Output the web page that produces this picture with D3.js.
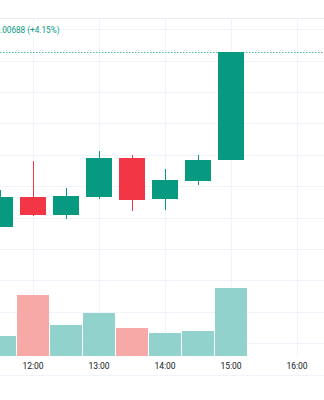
<!DOCTYPE html>
<html><head><meta charset="utf-8">
<script src="https://cdn.jsdelivr.net/npm/d3@7"></script>
<style>html,body{margin:0;padding:0;background:#fff;overflow:hidden}svg{display:block}</style>
</head><body>
<script>
const times  = ["11:30","12:00","12:30","13:00","13:30","14:00","14:30","15:00"];
const open   = [0.16140,0.16331,0.16216,0.16335,0.16579,0.16316,0.16432,0.16566];
const high   = [0.16375,0.16564,0.16386,0.16622,0.16598,0.16513,0.16598,0.17254];
const low    = [0.16138,0.16210,0.16189,0.16316,0.16241,0.16248,0.16411,0.16566];
const close  = [0.16331,0.16216,0.16337,0.16579,0.16314,0.16439,0.16566,0.17254];
const volume = [295000,909000,457000,648000,423000,343000,373000,1012000];
const priceTicks = [0.154,0.156,0.158,0.160,0.162,0.164,0.166,0.168,0.170,0.172,0.174];
const timeTicks  = ["12:00","13:00","14:00","15:00","16:00"];
const changeLabel = "+0.00688 (+4.15%)";

const W = 324, H = 400;
const paneTop = 18, paneBottom = 356, axisBottom = 375;
const UP = "#089981", DOWN = "#F23645", VUP = "#92d2cc", VDOWN = "#f7a9a7";
const toDate = s => { const [h,m] = s.split(":").map(Number); return new Date(Date.UTC(2024,0,2,h,m)); };

const svg = d3.select("body").append("svg").attr("width", W).attr("height", H);

const x = d3.scaleUtc().domain([toDate("11:30"), toDate("16:00")]).range([0, 297]);
const y = d3.scaleLinear().domain([0.154, 0.174]).range([343.3, 29.3]);
const yv = d3.scaleLinear().domain([0, d3.max(volume)]).range([paneBottom, paneBottom - 0.2*(paneBottom - paneTop)]);

const data = times.map((t,i) => ({t: toDate(t), o: open[i], h: high[i], l: low[i], c: close[i], v: volume[i]}));

// grid
const g = svg.append("g").attr("shape-rendering","crispEdges");
g.selectAll("line.h").data(priceTicks).join("line")
  .attr("x1",0).attr("x2",W).attr("y1",d=>Math.round(y(d))+0.5).attr("y2",d=>Math.round(y(d))+0.5)
  .attr("stroke","#f0f3fa");
g.selectAll("line.v").data(timeTicks).join("line")
  .attr("y1",paneTop).attr("y2",paneBottom).attr("x1",d=>Math.round(x(toDate(d)))+0.5).attr("x2",d=>Math.round(x(toDate(d)))+0.5)
  .attr("stroke","#f0f3fa");
g.append("line").attr("x1",0).attr("x2",W).attr("y1",paneTop+0.5).attr("y2",paneTop+0.5).attr("stroke","#e9ecf2");
g.append("line").attr("x1",0).attr("x2",W).attr("y1",axisBottom+0.5).attr("y2",axisBottom+0.5).attr("stroke","#f0f3fa");

// volume
svg.append("g").attr("shape-rendering","crispEdges").selectAll("rect").data(data).join("rect")
  .attr("x", d => Math.round(x(d.t)) - 16).attr("width", 32)
  .attr("y", d => yv(d.v)).attr("height", d => paneBottom - yv(d.v))
  .attr("fill", d => d.c >= d.o ? VUP : VDOWN);

// last price line
const last = data[data.length-1].c;
svg.append("line").attr("x1",0).attr("x2",W).attr("y1",Math.round(y(last))+0.5).attr("y2",Math.round(y(last))+0.5)
  .attr("stroke",UP).attr("stroke-opacity",0.7).attr("stroke-dasharray","1.5,1.5");

// candles
const cg = svg.append("g").attr("shape-rendering","crispEdges");
cg.selectAll("line").data(data).join("line")
  .attr("x1", d => Math.round(x(d.t))+0.5).attr("x2", d => Math.round(x(d.t))+0.5)
  .attr("y1", d => y(d.h)).attr("y2", d => y(d.l))
  .attr("stroke", d => d.c >= d.o ? UP : DOWN);
cg.selectAll("rect").data(data).join("rect")
  .attr("x", d => Math.round(x(d.t)) - 13).attr("width", 26)
  .attr("y", d => y(Math.max(d.o,d.c))).attr("height", d => Math.max(1, Math.abs(y(d.o)-y(d.c))))
  .attr("fill", d => d.c >= d.o ? UP : DOWN);

// time axis labels
svg.append("g").selectAll("text").data(timeTicks).join("text")
  .attr("x", d => x(toDate(d))).attr("y", 369)
  .attr("text-anchor","middle").attr("font-family","Roboto, sans-serif").attr("font-size","8.5px")
  .attr("fill","#131722").text(d => d);

// legend change
svg.append("text").attr("x", 59.5).attr("y", 32.5).attr("text-anchor","end")
  .attr("font-family","Roboto, sans-serif").attr("font-size","8.2px").attr("fill",UP).text(changeLabel);
</script>
</body></html>
